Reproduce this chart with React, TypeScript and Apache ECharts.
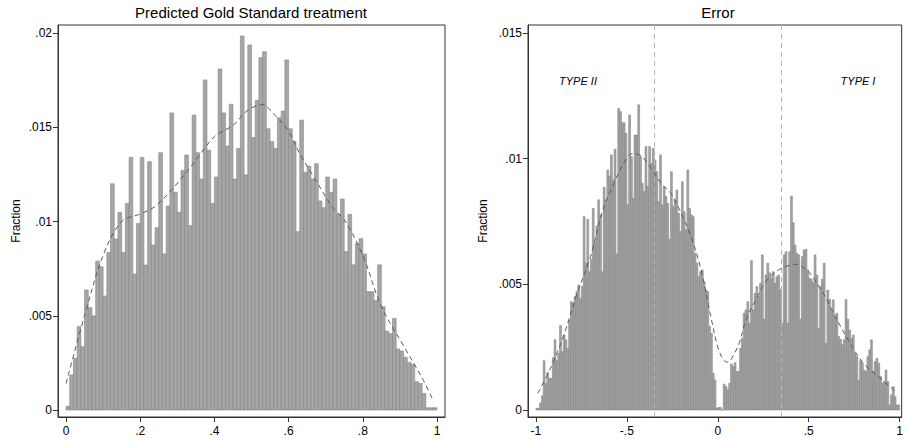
import React, { useEffect, useRef } from 'react';
import * as echarts from 'echarts';

const FONT = '"Liberation Sans", Arial, Helvetica, sans-serif';

// Left histogram: Predicted Gold Standard treatment, bins of width 0.01 from 0 to 1
const leftStart = 0;
const leftWidth = 0.01;
const leftValues = [
  0.0002, 0.00186, 0.00274, 0.00442, 0.00336, 0.00637, 0.00543, 0.00499, 0.0079, 0.0076,
  0.00605, 0.00836, 0.012, 0.00907, 0.01049, 0.00836, 0.01096, 0.0134, 0.00721, 0.0099,
  0.0134, 0.00769, 0.01317, 0.00875, 0.00967, 0.01365, 0.00828, 0.01082, 0.01576, 0.01155,
  0.01049, 0.01271, 0.01353, 0.00978, 0.01565, 0.01365, 0.01225, 0.01751, 0.01378, 0.01096,
  0.01236, 0.01809, 0.01576, 0.014, 0.01622, 0.01225, 0.01388, 0.01984, 0.01247, 0.01936,
  0.01445, 0.01643, 0.01869, 0.01901, 0.01492, 0.01424, 0.01388, 0.01551, 0.01586, 0.01857,
  0.01492, 0.01424, 0.00946, 0.01538, 0.01261, 0.01294, 0.01225, 0.01307, 0.01109, 0.01073,
  0.01236, 0.01155, 0.01225, 0.01038, 0.01119, 0.0084, 0.01038, 0.0077, 0.00884, 0.00909,
  0.00828, 0.00628, 0.00628, 0.00582, 0.0077, 0.00548, 0.00419, 0.00405, 0.00486, 0.00324,
  0.00313, 0.0028, 0.00253, 0.00242, 0.0015, 0.00141, 0.00088, 0.00012, 0.00012, 0.00012,
];
const leftDensityX = [0, 0.05, 0.1, 0.15, 0.2, 0.24, 0.29, 0.34, 0.4, 0.45, 0.49, 0.53, 0.56, 0.6, 0.63, 0.67, 0.72, 0.75, 0.8, 0.85, 0.91, 0.96, 0.99];
const leftDensityY = [0.0014, 0.005, 0.0082, 0.01, 0.0104, 0.0108, 0.0118, 0.013, 0.0145, 0.0151, 0.0159, 0.0162, 0.0157, 0.0148, 0.0136, 0.0123, 0.0107, 0.0101, 0.0082, 0.0055, 0.0034, 0.0017, 0.0005];

// Right histogram: Error, bins of width 0.01 from -1 to 1
const rightStart = -1;
const rightWidth = 0.01;
const rightValues = [
  0.00007, 0.00007, 0.00027, 0.00056, 0.00196, 0.00106, 0.00149, 0.00126, 0.00126, 0.00208,
  0.00279, 0.00196, 0.00225, 0.00336, 0.00232, 0.00298, 0.00279, 0.00245, 0.00358, 0.00431,
  0.00424, 0.00451, 0.00471, 0.00497, 0.00444, 0.00491, 0.00769, 0.00584, 0.00759, 0.0055,
  0.00599, 0.00802, 0.00666, 0.00732, 0.00836, 0.00776, 0.0055, 0.00886, 0.00836, 0.00955,
  0.00931, 0.01015, 0.00915, 0.01037, 0.00621, 0.012, 0.01187, 0.01143, 0.01143, 0.01101,
  0.00816, 0.01174, 0.01008, 0.00842, 0.01094, 0.01094, 0.01214, 0.01008, 0.00902, 0.00869,
  0.01048, 0.00889, 0.01048, 0.00981, 0.01041, 0.00995, 0.00948, 0.00829, 0.01015, 0.00816,
  0.00889, 0.00849, 0.00822, 0.00679, 0.00948, 0.00809, 0.00836, 0.00875, 0.00782, 0.0071,
  0.00908, 0.00789, 0.00716, 0.00955, 0.00802, 0.00776, 0.00769, 0.00623, 0.00584, 0.0053,
  0.0055, 0.00557, 0.00511, 0.00477, 0.00471, 0.00332, 0.00305, 0.00146, 0.00119, 0.00007,
  0.0001, 0.0001, 0, 0.00103, 0.00093, 0.0008, 0.00106, 0.00183, 0.00172, 0.00188,
  0.00153, 0.00153, 0.00245, 0.00285, 0.00385, 0.00398, 0.00431, 0.00345, 0.00594, 0.00398,
  0.00464, 0.00491, 0.00451, 0.00504, 0.00617, 0.00361, 0.00537, 0.00584, 0.00546, 0.00524,
  0.0055, 0.00504, 0.0053, 0.00537, 0.0048, 0.00345, 0.00617, 0.0063, 0.00345, 0.0063,
  0.00851, 0.00745, 0.00656, 0.00623, 0.00617, 0.00361, 0.0061, 0.00637, 0.00639, 0.00557,
  0.00524, 0.0052, 0.00507, 0.00617, 0.00537, 0.00325, 0.00491, 0.0052, 0.00584, 0.00265,
  0.00477, 0.0044, 0.00398, 0.00438, 0.00371, 0.00385, 0.00292, 0.00281, 0.00259, 0.00279,
  0.0044, 0.00361, 0.00318, 0.00285, 0.00298, 0.00225, 0.00212, 0.00117, 0.00196, 0.00186,
  0.00159, 0.00153, 0.00212, 0.00239, 0.00279, 0.00153, 0.00192, 0.00206, 0.00186, 0.00133,
  0.00106, 0.00113, 0.00159, 0.00113, 0.0002, 0.0006, 0.00093, 0.00053, 0.0002, 0.0002,
];
const rightDensityX = [-0.99, -0.92, -0.85, -0.78, -0.7, -0.63, -0.56, -0.51, -0.47, -0.42, -0.365, -0.31, -0.256, -0.2, -0.147, -0.093, -0.038, 0, 0.03, 0.055, 0.08, 0.12, 0.155, 0.21, 0.263, 0.318, 0.372, 0.427, 0.463, 0.5, 0.583, 0.655, 0.728, 0.8, 0.873, 0.946, 0.99];
const rightDensityY = [0.00066, 0.00166, 0.0029, 0.0045, 0.0061, 0.008, 0.0092, 0.0099, 0.0102, 0.0101, 0.0096, 0.009, 0.0086, 0.0078, 0.0069, 0.0056, 0.0037, 0.0025, 0.002, 0.0019, 0.0021, 0.0027, 0.0036, 0.0044, 0.0051, 0.0055, 0.0057, 0.0058, 0.0057, 0.0055, 0.0046, 0.0036, 0.00265, 0.00186, 0.0014, 0.00093, 0.00066];

const leftXTicks = [0, 0.2, 0.4, 0.6, 0.8, 1];
const leftYTicks = [0, 0.005, 0.01, 0.015, 0.02];
const rightXTicks = [-1, -0.5, 0, 0.5, 1];
const rightYTicks = [0, 0.005, 0.01, 0.015];
const cutoffs = [-0.35, 0.35];

const titles = ['Predicted Gold Standard treatment', 'Error'];
const yTitle = 'Fraction';
const typeLabels = ['TYPE II', 'TYPE I'];

const fmt = (v: number) => {
  if (Math.abs(v) < 1e-12) return '0';
  const s = String(+v.toFixed(4));
  return s.replace(/^(-?)0\./, '$1.');
};

const binData = (start: number, width: number, values: number[]) =>
  values.map((v, i) => [start + i * width, start + (i + 1) * width, v]);

const pairs = (xs: number[], ys: number[]) => xs.map((x, i) => [x, ys[i]]);

const histItem = (params: any, api: any) => {
  const x0 = api.value(0);
  const x1 = api.value(1);
  const v = api.value(2);
  const p0 = api.coord([x0, 0]);
  const p1 = api.coord([x1, v]);
  return {
    type: 'rect',
    shape: { x: p0[0], y: p1[1], width: p1[0] - p0[0], height: p0[1] - p1[1] },
    style: { fill: '#a6a6a6', stroke: '#858585', lineWidth: 0.6 },
  };
};

const axisCommon = (ticks: number[], margin: number) => ({
  type: 'value' as const,
  axisLine: { show: true, onZero: false, lineStyle: { color: '#333', width: 1 } },
  axisTick: { show: true, length: 5, customValues: ticks, lineStyle: { color: '#333' } },
  axisLabel: { customValues: ticks, formatter: fmt, color: '#000', fontSize: 12, fontFamily: FONT, margin },
  splitLine: { show: false },
});

export default function App() {
  const ref = useRef<HTMLDivElement>(null);
  useEffect(() => {
    if (!ref.current) return;
    const chart = echarts.init(ref.current, undefined, { renderer: 'svg' });
    const gridCommon = { show: true, borderColor: '#333', borderWidth: 1, backgroundColor: '#fff', containLabel: false };
    const nameStyle = { color: '#000', fontSize: 12, fontFamily: FONT };
    chart.setOption({
      animation: false,
      backgroundColor: '#fff',
      grid: [
        { ...gridCommon, left: 58, top: 25, width: 387, height: 392 },
        { ...gridCommon, left: 528, top: 25, width: 377, height: 392 },
      ],
      xAxis: [
        { ...axisCommon(leftXTicks, 8), gridIndex: 0, min: -0.0216, max: 1.0216 },
        { ...axisCommon(rightXTicks, 8), gridIndex: 1, min: -1.0436, max: 1.011 },
      ],
      yAxis: [
        {
          ...axisCommon(leftYTicks, 6), gridIndex: 0, min: -0.00037, max: 0.020424,
          name: yTitle, nameLocation: 'middle', nameGap: 36, nameRotate: 90, nameTextStyle: nameStyle,
        },
        {
          ...axisCommon(rightYTicks, 6), gridIndex: 1, min: -0.000279, max: 0.015318,
          name: yTitle, nameLocation: 'middle', nameGap: 39, nameRotate: 90, nameTextStyle: nameStyle,
        },
      ],
      graphic: [
        { type: 'text', x: 251, y: 12, style: { text: titles[0], align: 'center', verticalAlign: 'middle', fill: '#000', font: `15px ${FONT}` } },
        { type: 'text', x: 718, y: 12, style: { text: titles[1], align: 'center', verticalAlign: 'middle', fill: '#000', font: `15px ${FONT}` } },
        { type: 'text', x: 578, y: 81, z: 10, style: { text: typeLabels[0], align: 'center', verticalAlign: 'middle', fill: '#000', font: `italic 11px ${FONT}` } },
        { type: 'text', x: 858, y: 81, z: 10, style: { text: typeLabels[1], align: 'center', verticalAlign: 'middle', fill: '#000', font: `italic 11px ${FONT}` } },
      ],
      series: [
        {
          type: 'custom', xAxisIndex: 0, yAxisIndex: 0, renderItem: histItem,
          encode: { x: [0, 1], y: 2 }, data: binData(leftStart, leftWidth, leftValues), clip: true,
        },
        {
          type: 'line', xAxisIndex: 0, yAxisIndex: 0, data: pairs(leftDensityX, leftDensityY),
          smooth: 0.35, showSymbol: false, symbol: 'none',
          lineStyle: { color: '#5a5a5a', width: 1, type: [5, 3.5] }, z: 5,
        },
        {
          type: 'custom', xAxisIndex: 1, yAxisIndex: 1, renderItem: histItem,
          encode: { x: [0, 1], y: 2 }, data: binData(rightStart, rightWidth, rightValues), clip: true,
        },
        {
          type: 'line', xAxisIndex: 1, yAxisIndex: 1, data: pairs(rightDensityX, rightDensityY),
          smooth: 0.35, showSymbol: false, symbol: 'none',
          lineStyle: { color: '#5a5a5a', width: 1, type: [5, 3.5] }, z: 5,
          markLine: {
            silent: true, symbol: 'none', label: { show: false },
            lineStyle: { color: '#b4b4b4', width: 1, type: [5, 4] },
            data: cutoffs.map((c) => ({ xAxis: c })),
          },
        },
      ],
    });
    return () => chart.dispose();
  }, []);
  return <div ref={ref} style={{ position: 'absolute', left: 0, top: 0, width: 906, height: 439 }} />;
}
